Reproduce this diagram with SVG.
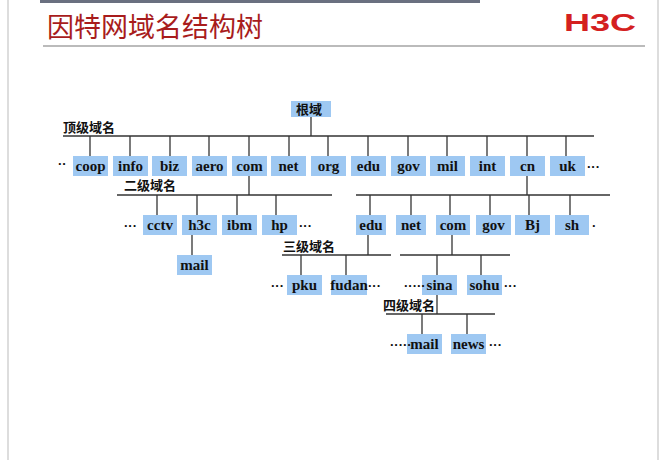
<svg xmlns="http://www.w3.org/2000/svg" width="667" height="460" viewBox="0 0 667 460">
<style>
.b{fill:#9ec8f2}
.t{font-family:"Liberation Serif",serif;font-size:15px;font-weight:bold;text-anchor:middle;fill:#111}
.c{font-family:"Noto Sans CJK SC",sans-serif;font-size:13px;font-weight:bold;fill:#111}
.d{font-family:"Liberation Sans",sans-serif;font-size:13px;font-weight:bold;fill:#111}
#conn line{stroke:#333;stroke-width:1.3}
</style>
<rect width="667" height="460" fill="#fff"/>
<rect x="40" y="0" width="440" height="3" fill="#6a7080"/>
<line x1="8" y1="0" x2="8" y2="460" stroke="#bbb"/>
<line x1="658" y1="0" x2="658" y2="460" stroke="#bbb"/>
<text x="47" y="37" font-family="Noto Sans CJK SC,sans-serif" font-size="27" fill="#a81c1c">因特网域名结构树</text>
<text x="564" y="31" font-family="Liberation Sans,sans-serif" font-size="24" font-weight="bold" fill="#d42020" textLength="72" lengthAdjust="spacingAndGlyphs">H3C</text>
<line x1="43" y1="46" x2="645" y2="46" stroke="#bbb" stroke-width="2"/>
<g id="conn">
<line x1="311" y1="116" x2="311" y2="136"/>
<line x1="63" y1="136" x2="594" y2="136"/>
<line x1="90" y1="136" x2="90" y2="156"/><line x1="130" y1="136" x2="130" y2="156"/><line x1="170" y1="136" x2="170" y2="156"/><line x1="209" y1="136" x2="209" y2="156"/><line x1="249" y1="136" x2="249" y2="156"/><line x1="289" y1="136" x2="289" y2="156"/><line x1="328" y1="136" x2="328" y2="156"/><line x1="368" y1="136" x2="368" y2="156"/><line x1="408" y1="136" x2="408" y2="156"/><line x1="447" y1="136" x2="447" y2="156"/><line x1="487" y1="136" x2="487" y2="156"/><line x1="527" y1="136" x2="527" y2="156"/><line x1="566" y1="136" x2="566" y2="156"/>
<line x1="249" y1="176" x2="249" y2="195"/>
<line x1="117" y1="195" x2="332" y2="195"/>
<line x1="157" y1="195" x2="157" y2="215"/><line x1="197" y1="195" x2="197" y2="215"/><line x1="237" y1="195" x2="237" y2="215"/><line x1="276" y1="195" x2="276" y2="215"/>
<line x1="192" y1="235" x2="192" y2="255"/>
<line x1="527" y1="176" x2="527" y2="195"/>
<line x1="356" y1="195" x2="610" y2="195"/>
<line x1="370" y1="195" x2="370" y2="215"/><line x1="411" y1="195" x2="411" y2="215"/><line x1="450" y1="195" x2="450" y2="215"/><line x1="490" y1="195" x2="490" y2="215"/><line x1="529" y1="195" x2="529" y2="215"/><line x1="570" y1="195" x2="570" y2="215"/>
<line x1="368" y1="235" x2="368" y2="255"/>
<line x1="282" y1="255" x2="391" y2="255"/>
<line x1="301" y1="255" x2="301" y2="275"/><line x1="346" y1="255" x2="346" y2="275"/>
<line x1="452" y1="235" x2="452" y2="255"/>
<line x1="400" y1="255" x2="510" y2="255"/>
<line x1="437" y1="255" x2="437" y2="275"/><line x1="481" y1="255" x2="481" y2="275"/>
<line x1="437" y1="295" x2="437" y2="314"/>
<line x1="386" y1="314" x2="495" y2="314"/>
<line x1="422" y1="314" x2="422" y2="334"/><line x1="467" y1="314" x2="467" y2="334"/>
</g>
<g id="root"><rect class="b" x="291" y="101" width="40" height="16"/><text class="c" x="296" y="114">根域</text></g>
<text class="c" x="63" y="132">顶级域名</text>
<text class="c" x="124" y="190">二级域名</text>
<text class="c" x="283" y="251">三级域名</text>
<text class="c" x="383" y="310">四级域名</text>
<g id="coop"><rect class="b" x="73" y="156" width="35" height="20"/><text class="t" x="90.5" y="171">coop</text></g>
<g id="info"><rect class="b" x="113" y="156" width="35" height="20"/><text class="t" x="130.5" y="171">info</text></g>
<g id="biz"><rect class="b" x="152" y="156" width="35" height="20"/><text class="t" x="169.5" y="171">biz</text></g>
<g id="aero"><rect class="b" x="192" y="156" width="35" height="20"/><text class="t" x="209.5" y="171">aero</text></g>
<g id="com"><rect class="b" x="232" y="156" width="35" height="20"/><text class="t" x="249.5" y="171">com</text></g>
<g id="net"><rect class="b" x="271" y="156" width="35" height="20"/><text class="t" x="288.5" y="171">net</text></g>
<g id="org"><rect class="b" x="311" y="156" width="35" height="20"/><text class="t" x="328.5" y="171">org</text></g>
<g id="edu"><rect class="b" x="351" y="156" width="35" height="20"/><text class="t" x="368.5" y="171">edu</text></g>
<g id="gov"><rect class="b" x="391" y="156" width="35" height="20"/><text class="t" x="408.5" y="171">gov</text></g>
<g id="mil"><rect class="b" x="430" y="156" width="35" height="20"/><text class="t" x="447.5" y="171">mil</text></g>
<g id="int"><rect class="b" x="470" y="156" width="35" height="20"/><text class="t" x="487.5" y="171">int</text></g>
<g id="cn"><rect class="b" x="510" y="156" width="35" height="20"/><text class="t" x="527.5" y="171">cn</text></g>
<g id="uk"><rect class="b" x="550" y="156" width="35" height="20"/><text class="t" x="567.5" y="171">uk</text></g>
<text class="d" x="58" y="168">··</text><text class="d" x="587" y="171">···</text>
<g id="cctv"><rect class="b" x="143" y="215" width="34" height="20"/><text class="t" x="160" y="230">cctv</text></g>
<g id="h3c"><rect class="b" x="182" y="215" width="35" height="20"/><text class="t" x="199.5" y="230">h3c</text></g>
<g id="ibm"><rect class="b" x="222" y="215" width="35" height="20"/><text class="t" x="239.5" y="230">ibm</text></g>
<g id="hp"><rect class="b" x="262" y="215" width="35" height="20"/><text class="t" x="279.5" y="230">hp</text></g>
<text class="d" x="124" y="230">···</text><text class="d" x="299" y="230">···</text>
<g id="mail1"><rect class="b" x="177" y="255" width="35" height="20"/><text class="t" x="194.5" y="270">mail</text></g>
<g id="edu2"><rect class="b" x="356" y="215" width="30" height="20"/><text class="t" x="371" y="230">edu</text></g>
<g id="net2"><rect class="b" x="396" y="215" width="30" height="20"/><text class="t" x="411" y="230">net</text></g>
<g id="com2"><rect class="b" x="436" y="215" width="34" height="20"/><text class="t" x="453" y="230">com</text></g>
<g id="gov2"><rect class="b" x="476" y="215" width="35" height="20"/><text class="t" x="493.5" y="230">gov</text></g>
<g id="bj"><rect class="b" x="515" y="215" width="35" height="20"/><text class="t" x="532.5" y="230">Bj</text></g>
<g id="sh"><rect class="b" x="555" y="215" width="34" height="20"/><text class="t" x="572" y="230">sh</text></g>
<text class="d" x="592" y="230">·</text>
<g id="pku"><rect class="b" x="287" y="275" width="35" height="20"/><text class="t" x="304.5" y="290">pku</text></g>
<g id="fudan"><rect class="b" x="331" y="275" width="36" height="20"/><text class="t" x="349" y="290">fudan</text></g>
<text class="d" x="271" y="290">···</text><text class="d" x="368" y="290">···</text>
<g id="sina"><rect class="b" x="422" y="275" width="35" height="20"/><text class="t" x="439.5" y="290">sina</text></g>
<g id="sohu"><rect class="b" x="467" y="275" width="35" height="20"/><text class="t" x="484.5" y="290">sohu</text></g>
<text class="d" x="404" y="290">·····</text><text class="d" x="504" y="290">···</text>
<g id="mail2"><rect class="b" x="407" y="334" width="35" height="20"/><text class="t" x="424.5" y="349">mail</text></g>
<g id="news"><rect class="b" x="451" y="334" width="35" height="20"/><text class="t" x="468.5" y="349">news</text></g>
<text class="d" x="390" y="349">·····</text><text class="d" x="489" y="349">···</text>
</svg>
